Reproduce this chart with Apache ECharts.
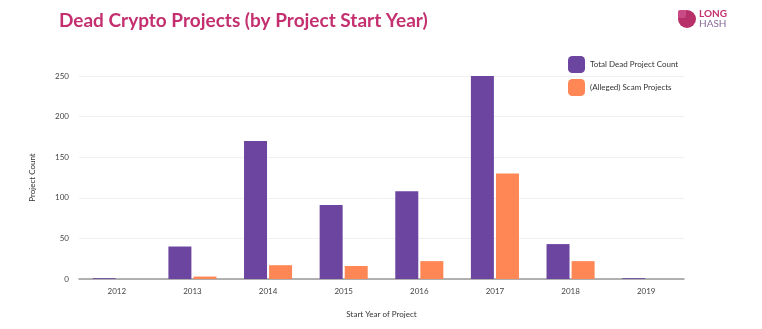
<!DOCTYPE html>
<html>
<head>
<meta charset="utf-8">
<script src="https://cdn.jsdelivr.net/npm/echarts@6/dist/echarts.min.js"></script>
<style>html,body{margin:0;padding:0;background:#fff}#c{width:762px;height:329px}</style>
</head>
<body>
<div id="c"></div>
<script>
const years = ['2012','2013','2014','2015','2016','2017','2018','2019'];
const totalDead = [1, 40, 170, 91, 108, 250, 43, 1];
const scamProjects = [0, 3, 17, 16, 22, 130, 22, 0];
const yTicks = [0, 50, 100, 150, 200, 250];

const chart = echarts.init(document.getElementById('c'));
chart.setOption({
  backgroundColor: '#fff',
  animation: false,
  textStyle: { fontFamily: 'Lato, "Open Sans", sans-serif' },
  title: {
    text: 'Dead Crypto Projects (by Project Start Year)',
    left: 54, top: 6,
    textStyle: { color: '#C4306F', fontSize: 19, fontWeight: 'bold', fontFamily: 'Lato, sans-serif' }
  },
  graphic: [
    { type: 'circle', shape: { cx: 687, cy: 19, r: 9 }, style: { fill: '#B8306A' } },
    { type: 'rect', shape: { x: 678, y: 10, width: 8, height: 8, r: 2 }, style: { fill: '#C94A86' } },
    { type: 'text', left: 699, top: 9, style: { text: 'LONG', fill: '#C4306F', fontSize: 10, fontWeight: 'bold', fontFamily: 'Lato, sans-serif' } },
    { type: 'text', left: 699, top: 19, style: { text: 'HASH', fill: '#8A6A9A', fontSize: 10, fontFamily: 'Lato, sans-serif' } }
  ],
  legend: {
    orient: 'vertical', left: 568, top: 56, padding: 0, itemWidth: 17, itemHeight: 17, itemGap: 6,
    icon: 'roundRect',
    textStyle: { fontSize: 8, color: '#333' },
    data: ['Total Dead Project Count', '(Alleged) Scam Projects']
  },
  grid: { left: 79, right: 78, top: 76, bottom: 50 },
  xAxis: {
    type: 'category', data: years,
    name: 'Start Year of Project', nameLocation: 'middle', nameGap: 31,
    nameTextStyle: { fontSize: 8, color: '#333' },
    axisLine: { lineStyle: { color: '#999', width: 1.5 } },
    axisTick: { show: false },
    axisLabel: { fontSize: 8, color: '#444', margin: 8 }
  },
  yAxis: {
    type: 'value', min: yTicks[0], max: yTicks[yTicks.length - 1], interval: 50,
    name: 'Project Count', nameLocation: 'middle', nameGap: 43, nameRotate: 90,
    nameTextStyle: { fontSize: 8, color: '#333' },
    axisLine: { show: false }, axisTick: { show: false },
    axisLabel: { fontSize: 8, color: '#444', margin: 10 },
    splitLine: { lineStyle: { color: '#f0f0f0' } }
  },
  series: [
    { name: 'Total Dead Project Count', type: 'bar', data: totalDead, barWidth: 23, barGap: '9%',
      itemStyle: { color: '#6B45A0' } },
    { name: '(Alleged) Scam Projects', type: 'bar', data: scamProjects, barWidth: 23,
      itemStyle: { color: '#FF8755' } }
  ]
});
</script>
</body>
</html>
